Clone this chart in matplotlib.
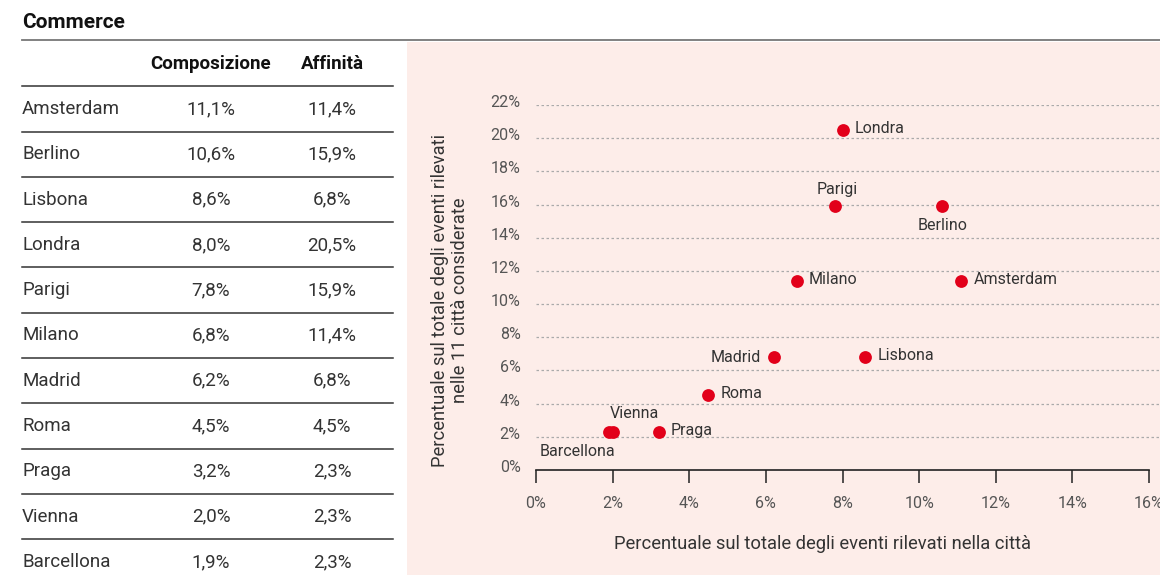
import matplotlib.pyplot as plt
import matplotlib.transforms as mtransforms
from matplotlib.patches import Rectangle

plt.rcParams["font.family"] = ["Roboto", "DejaVu Sans"]

# dati
citta = ["Amsterdam", "Berlino", "Lisbona", "Londra", "Parigi", "Milano",
         "Madrid", "Roma", "Praga", "Vienna", "Barcellona"]
composizione = [11.1, 10.6, 8.6, 8.0, 7.8, 6.8, 6.2, 4.5, 3.2, 2.0, 1.9]
affinita = [11.4, 15.9, 6.8, 20.5, 15.9, 11.4, 6.8, 4.5, 2.3, 2.3, 2.3]
# posizione etichetta: r destra, l sinistra, t sopra, b sotto
posizioni = ["r", "b", "r", "r", "t", "r", "l", "r", "r", "tr", "bl"]
y_ticks = [0, 2, 4, 6, 8, 10, 12, 14, 16, 18, 20, 22]
x_ticks = [0, 2, 4, 6, 8, 10, 12, 14, 16]

W, H = 1160, 575
testo = "#333333"
rosso = "#e2001a"
rosa = "#fdede9"


def fx(px):
    return px / W


def fy(py):
    return 1 - py / H


fig = plt.figure(figsize=(W / 100, H / 100), dpi=100)
fig.patch.set_facecolor("white")

# pannello rosa
fig.patches.append(Rectangle((fx(407), 0), fx(W) - fx(407), fy(42),
                             transform=fig.transFigure, facecolor=rosa,
                             edgecolor="none", zorder=-1))

# titolo e linea superiore
fig.text(fx(22), fy(22), "Commerce", fontsize=15, fontweight="bold",
         color="#111111", va="center", ha="left")
fig.add_artist(plt.Line2D([fx(22), 1], [fy(40), fy(40)], color="#777777",
                          lw=1.3, transform=fig.transFigure))

# tabella
fig.text(fx(211), fy(64), "Composizione", fontsize=13.5, fontweight="bold",
         color="#111111", ha="center", va="center")
fig.text(fx(332), fy(64), "Affinità", fontsize=13.5, fontweight="bold",
         color="#111111", ha="center", va="center")
fig.add_artist(plt.Line2D([fx(22), fx(393)], [fy(86), fy(86)], color="#333333",
                          lw=1.1, transform=fig.transFigure))
riga = 45.3
for i, c in enumerate(citta):
    yc = 109 + i * riga
    fig.text(fx(22), fy(yc), c, fontsize=13.5, color=testo, ha="left", va="center")
    fig.text(fx(211), fy(yc), f"{composizione[i]:.1f}%".replace(".", ","),
             fontsize=13.5, color=testo, ha="center", va="center")
    fig.text(fx(332), fy(yc), f"{affinita[i]:.1f}%".replace(".", ","),
             fontsize=13.5, color=testo, ha="center", va="center")
    if i < len(citta) - 1:
        yl = yc + 22.5
        fig.add_artist(plt.Line2D([fx(22), fx(393)], [fy(yl), fy(yl)],
                                  color="#333333", lw=1.1,
                                  transform=fig.transFigure))

# scatter
x0, x16 = 536, 1149
per_pt = (x16 - x0) / 16
xmax = (W - x0) / per_pt
ax = fig.add_axes([fx(x0), fy(470), fx(W) - fx(x0), fy(105) - fy(470)])
ax.set_facecolor("none")
ax.set_zorder(2)
ax.set_xlim(0, xmax)
ax.set_ylim(0, 22)

for t in y_ticks[1:]:
    ax.axhline(t, color="#aaaaaa", lw=0.9, ls=(0, (2, 2)), zorder=1)

ax.scatter(composizione, affinita, s=85, color=rosso, zorder=3, linewidths=0)

fs = 11.5
off = 9
for c, x, y, p in zip(citta, composizione, affinita, posizioni):
    if p == "r":
        ax.annotate(c, (x, y), xytext=(off, 1), textcoords="offset points",
                    ha="left", va="center", fontsize=fs, color=testo)
    elif p == "l":
        ax.annotate(c, (x, y), xytext=(-off, 0), textcoords="offset points",
                    ha="right", va="center", fontsize=fs, color=testo)
    elif p == "t":
        ax.annotate(c, (x, y), xytext=(2, 12), textcoords="offset points",
                    ha="center", va="center", fontsize=fs, color=testo)
    elif p == "tr":
        ax.annotate(c, (x, y), xytext=(-2, 13), textcoords="offset points",
                    ha="left", va="center", fontsize=fs, color=testo)
    elif p == "bl":
        ax.annotate(c, (x, y), xytext=(5, -14), textcoords="offset points",
                    ha="right", va="center", fontsize=fs, color=testo)
    else:
        ax.annotate(c, (x, y), xytext=(0, -14), textcoords="offset points",
                    ha="center", va="center", fontsize=fs, color=testo)

for s in ["top", "right", "left"]:
    ax.spines[s].set_visible(False)
ax.spines["bottom"].set_bounds(0, 16)
ax.spines["bottom"].set_color("#222222")
ax.spines["bottom"].set_linewidth(1.2)

ax.set_xticks(x_ticks)
ax.set_xticklabels([f"{t}%" for t in x_ticks])
ax.set_yticks(y_ticks)
ax.set_yticklabels([f"{t}%" for t in y_ticks])
ax.tick_params(axis="x", length=9, width=1.1, color="#222222", pad=10,
               labelsize=11.5, labelcolor="#555555")
ax.tick_params(axis="y", length=0, pad=11, labelsize=11.5, labelcolor="#555555")
sposta = mtransforms.ScaledTranslation(0, 4 / 100, fig.dpi_scale_trans)
for lab in ax.get_yticklabels():
    lab.set_transform(lab.get_transform() + sposta)

fig.text(fx(822), fy(544), "Percentuale sul totale degli eventi rilevati nella città",
         fontsize=13.2, color=testo, ha="center", va="center")
fig.text(fx(450), fy(300),
         "Percentuale sul totale degli eventi rilevati\nnelle 11 città considerate",
         fontsize=13.2, color=testo, ha="center", va="center", rotation=90,
         multialignment="center", linespacing=1.1)

fig.savefig("out.png", dpi=100)
